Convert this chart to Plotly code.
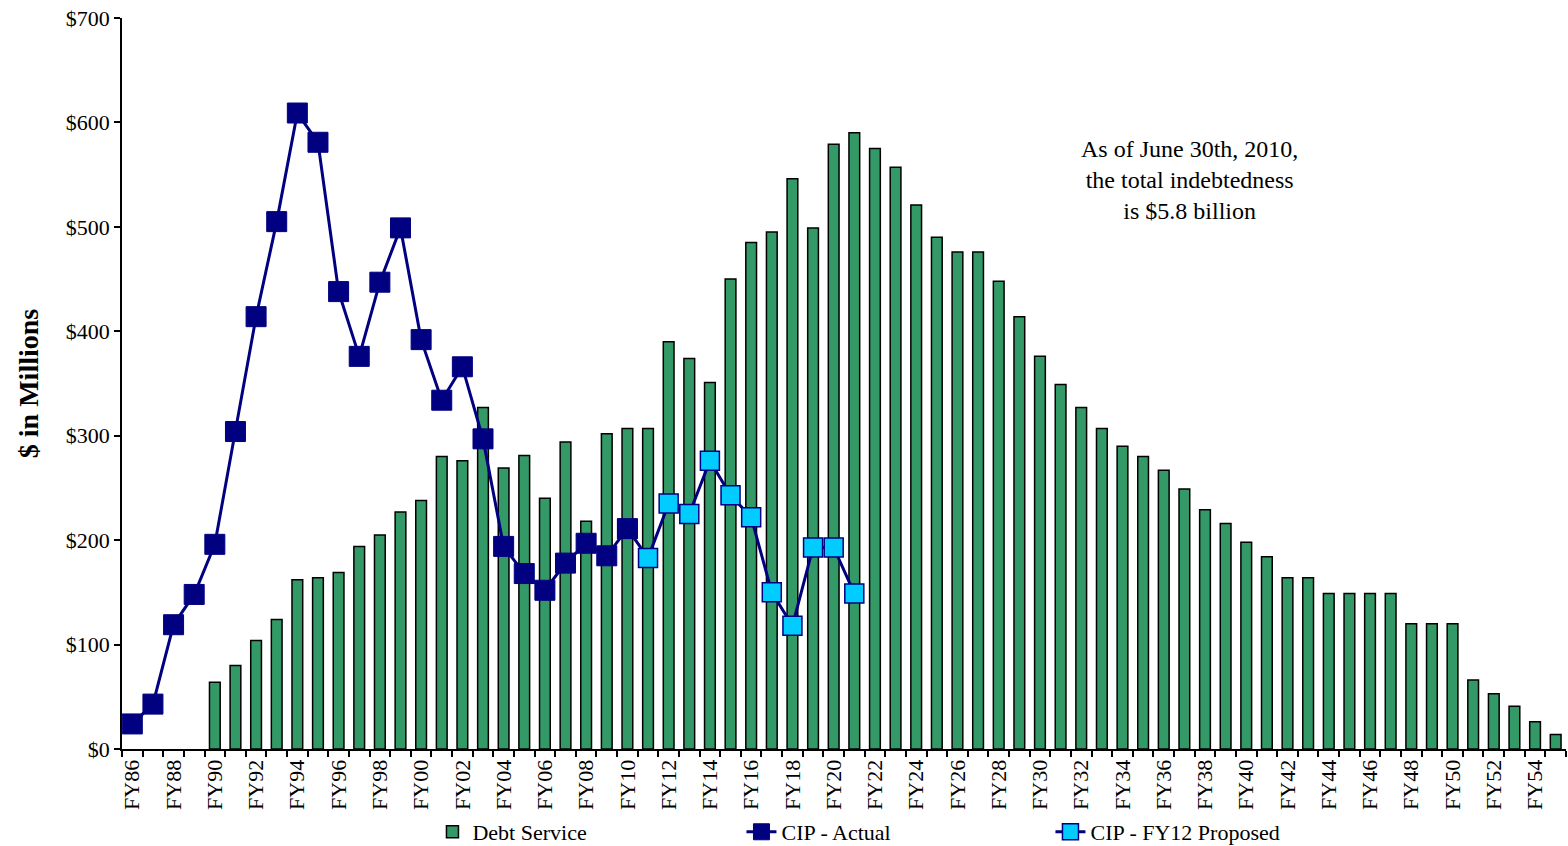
import plotly.graph_objects as go

fiscal_years = [f"FY{y % 100:02d}" for y in range(1986, 2056)]

# Debt Service ($ millions), FY90..FY55
debt_years = fiscal_years[4:]
debt_service = [64, 80, 104, 124, 162, 164, 169, 194, 205, 227,
                238, 280, 276, 327, 269, 281, 240, 294, 218, 302,
                307, 307, 390, 374, 351, 450, 485, 495, 546, 499,
                579, 590, 575, 557, 521, 490, 476, 476, 448, 414,
                376, 349, 327, 307, 290, 280, 267, 249, 229, 216,
                198, 184, 164, 164, 149, 149, 149, 149, 120, 120,
                120, 66, 53, 41, 26, 14]

# CIP - Actual, FY86..FY10
cip_actual_years = fiscal_years[0:25]
cip_actual = [24, 43, 119, 148, 196, 304, 414, 505, 609, 581,
              438, 376, 447, 499, 392, 334, 366, 297, 194, 168,
              152, 178, 197, 185, 211]

# CIP - FY12 Proposed, FY10..FY21 (starts from last actual)
cip_prop_years = fiscal_years[24:36]
cip_proposed = [211, 183, 235, 225, 276, 243, 222, 150, 118, 193, 193, 149]

y_ticks = [0, 100, 200, 300, 400, 500, 600, 700]
y_tick_text = ["$0", "$100", "$200", "$300", "$400", "$500", "$600", "$700"]

idx = {c: i for i, c in enumerate(fiscal_years)}
label_idx = [i for i in range(len(fiscal_years)) if i % 2 == 0]
label_txt = [fiscal_years[i] for i in label_idx]

FONT = "Liberation Serif, Times New Roman, serif"
NAVY = "#000080"

fig = go.Figure()
fig.add_trace(go.Bar(
    x=[idx[c] for c in debt_years], y=debt_service, name="Debt Service",
    width=0.52, marker=dict(color="#339966", line=dict(color="black", width=1.5)),
    legendrank=1,
))
fig.add_trace(go.Scatter(
    x=[idx[c] for c in cip_prop_years], y=cip_proposed, name="CIP - FY12 Proposed",
    mode="lines+markers", line=dict(color=NAVY, width=3),
    marker=dict(symbol="square", size=19, color="#00CCFF", line=dict(color=NAVY, width=1.5)),
    legendrank=3,
))
fig.add_trace(go.Scatter(
    x=[idx[c] for c in cip_actual_years], y=cip_actual, name="CIP - Actual",
    mode="lines+markers", line=dict(color=NAVY, width=3),
    marker=dict(symbol="square", size=20, color=NAVY, line=dict(color=NAVY, width=1)),
    legendrank=2,
))

fig.add_annotation(
    x=0.7396, y=0.778, xref="paper", yref="paper", xanchor="center", yanchor="middle",
    text="As of June 30th, 2010,<br>the total indebtedness<br>is $5.8 billion",
    showarrow=False, align="center", font=dict(family=FONT, size=24, color="black"),
)

fig.update_layout(
    width=1568, height=846, autosize=False,
    margin=dict(l=122, r=2, t=18, b=97, autoexpand=False),
    plot_bgcolor="white", paper_bgcolor="white",
    font=dict(family=FONT, size=22, color="black"),
    showlegend=True,
    legend=dict(orientation="h", x=0.215, xanchor="left", y=-0.1135, yanchor="middle",
                entrywidth=264, entrywidthmode="pixels",
                font=dict(family=FONT, size=22), traceorder="normal"),
)
fig.update_xaxes(
    range=[-0.5, len(fiscal_years) - 0.5], automargin=False,
    tickmode="array", tickvals=label_idx, ticktext=label_txt, tickangle=-90,
    ticks="", showgrid=False, zeroline=False,
    showline=True, linecolor="black", linewidth=2,
    tickfont=dict(family=FONT, size=22),
    minor=dict(tickmode="linear", tick0=-0.5, dtick=1, ticks="outside",
               ticklen=6, tickwidth=1.5, tickcolor="black", showgrid=False),
)
fig.update_yaxes(
    range=[0, 700], automargin=False, tickmode="array", tickvals=y_ticks, ticktext=y_tick_text,
    ticks="outside", ticklen=6, tickwidth=1.5, tickcolor="black",
    showgrid=False, zeroline=False, showline=True, linecolor="black", linewidth=1.5,
    tickfont=dict(family=FONT, size=22),
    title=dict(text="<b>$ in Millions</b>", font=dict(family=FONT, size=28), standoff=19),
)

fig.write_html(
    "out.html",
    config={"displayModeBar": False, "responsive": False},
    post_script="document.body.style.margin='0';document.body.style.overflow='hidden';",
)
